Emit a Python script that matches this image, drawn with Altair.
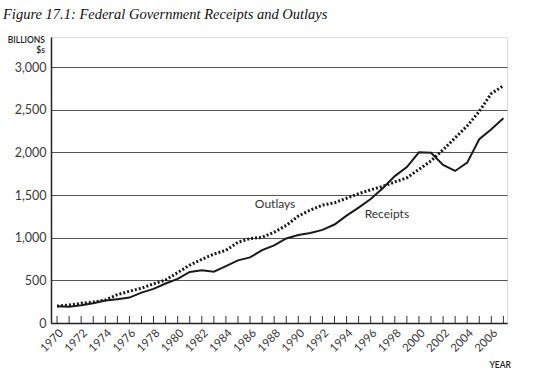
import altair as alt
import pandas as pd

years = list(range(1970, 2008))
receipts = [195, 190, 207, 231, 263, 279, 298, 356, 400, 463,
            517, 599, 618, 601, 666, 734, 769, 854, 909, 991,
            1032, 1055, 1091, 1154, 1259, 1352, 1453, 1579, 1722, 1828,
            2000, 1995, 1853, 1782, 1880, 2154, 2270, 2400]
outlays = [198, 210, 231, 246, 269, 332, 372, 409, 459, 504,
           591, 678, 746, 808, 852, 946, 990, 1004, 1064, 1144,
           1253, 1324, 1382, 1409, 1462, 1516, 1561, 1601, 1653, 1702,
           1800, 1900, 2030, 2170, 2310, 2480, 2690, 2780]
label_years = list(range(1970, 2007, 2))
y_values = [0, 500, 1000, 1500, 2000, 2500, 3000]

labels_text = ["Outlays", "Receipts"]
labels_year = [1986.4, 1995.5]
labels_value = [1400, 1280]

df = pd.DataFrame({"year": years, "Receipts": receipts, "Outlays": outlays})
ticks_df = pd.DataFrame({"year": years})
lab_df = pd.DataFrame({"text": labels_text, "year": labels_year, "value": labels_value})

W, H = 456, 286
FONT = "Lato"
xscale = alt.Scale(domain=[1969.5, 2007.3], nice=False, zero=False)
yscale = alt.Scale(domain=[0, 3352], nice=False)

xaxis = alt.Axis(values=label_years, format="d", labelAngle=-45, ticks=False, grid=False,
                 domainColor="#222", domainWidth=1.5, labelFont=FONT, labelFontSize=11.5,
                 labelColor="#3a3a3a", title=None, labelPadding=4, labelOverlap=False,
                 labelBound=False, labelFlush=False)
yaxis = alt.Axis(values=y_values, format=",d", ticks=False, grid=True, gridColor="#555",
                 gridWidth=1.1, domainColor="#222", domainWidth=1.5, labelFont=FONT,
                 labelFontSize=12.5, labelColor="#3a3a3a", title=None, labelPadding=5,
                 labelOverlap=False, labelFlush=False)

base = alt.Chart(df)

receipts_line = base.mark_line(color="#1a1a1a", strokeWidth=2).encode(
    x=alt.X("year:Q", scale=xscale, axis=xaxis),
    y=alt.Y("Receipts:Q", scale=yscale, axis=yaxis),
)
outlays_line = base.mark_line(color="#1a1a1a", strokeWidth=3, strokeDash=[2, 2]).encode(
    x=alt.X("year:Q", scale=xscale, axis=xaxis),
    y=alt.Y("Outlays:Q", scale=yscale, axis=yaxis),
)
tick_marks = alt.Chart(ticks_df).mark_rule(color="#333", strokeWidth=1).encode(
    x=alt.X("year:Q", scale=xscale, axis=xaxis),
    y=alt.value(H),
    y2=alt.value(H - 7),
)
line_labels = alt.Chart(lab_df).mark_text(align="left", baseline="middle", font=FONT,
                                          fontSize=12, color="#333").encode(
    x=alt.X("year:Q", scale=xscale, axis=xaxis),
    y=alt.Y("value:Q", scale=yscale, axis=yaxis),
    text="text:N",
)


def note(text, x, y, align="right", size=8.5, weight=600, font=FONT, style="normal", color="#222",
         baseline="middle"):
    return alt.Chart(pd.DataFrame({"t": [text]})).mark_text(
        align=align, baseline=baseline, font=font, fontSize=size, fontWeight=weight,
        fontStyle=style, color=color
    ).encode(text="t:N", x=alt.value(x), y=alt.value(y))


title = note("Figure 17.1: Federal Government Receipts and Outlays", -48, -18, align="left",
             size=14.5, weight="normal", font="Liberation Serif", style="italic", color="#111",
             baseline="alphabetic")
billions = note("BILLIONS", -6, 3)
dollars = note("$s", -6, 13)
year_lbl = note("YEAR", W + 4, H + 42)

chart = alt.layer(receipts_line, outlays_line, tick_marks, line_labels, title, billions, dollars,
                  year_lbl).properties(
    width=W, height=H,
    autosize=alt.AutoSizeParams(type="none"),
    padding={"left": 51, "top": 37, "right": 39, "bottom": 52},
).configure_view(stroke=None).configure_axis(labelOverlap=False).configure(background="white")

chart.save("out.html", embed_options={"renderer": "svg", "actions": False})
